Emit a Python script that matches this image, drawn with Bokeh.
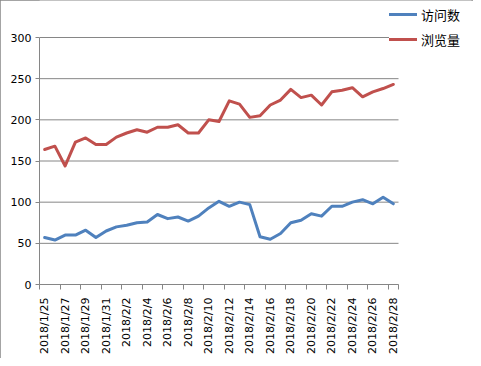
from math import pi
from bokeh.plotting import figure
from bokeh.models import (Range1d, FixedTicker, LinearAxis, Legend, LegendItem)
from bokeh.embed import file_html
from bokeh.resources import INLINE

# ---- data ----
dates = ["2018/1/%d" % d for d in range(25, 32)] + ["2018/2/%d" % d for d in range(1, 29)]
visits = [57, 54, 60, 60, 66, 57, 65, 70, 72, 75, 76, 85, 80, 82, 77, 83, 93, 101,
          95, 100, 97, 58, 55, 62, 75, 78, 86, 83, 95, 95, 100, 103, 98, 106, 98]
views = [164, 168, 144, 173, 178, 170, 170, 179, 184, 188, 185, 191, 191, 194, 184, 184, 200, 198,
         223, 219, 203, 205, 218, 224, 237, 227, 230, 218, 234, 236, 239, 228, 234, 238, 243]
series_names = ["访问数", "浏览量"]
y_ticks = [0, 50, 100, 150, 200, 250, 300]

n = len(dates)
xs = list(range(n))
label_pos = xs[::2]
label_text = {i: dates[i] for i in label_pos}
boundary_ticks = [i - 0.5 for i in label_pos] + [n - 0.5]

GRAY = "#868686"
BLUE = "#4F81BD"
RED = "#C0504D"
FONT = "DejaVu Sans"

# layout geometry (pixels)
W, H = 473, 358
BL, BR, BT, BB = 39, 2, 0, 74
px_per_cat = 359.0 / n          # plotted category width
px_per_unit = 247.0 / y_ticks[-1]
x_end = -0.5 + (W - BL - BR) / px_per_cat
y_end = (H - BT - BB) / px_per_unit

p = figure(width=W, height=H, output_backend="svg", toolbar_location=None,
           x_range=Range1d(-0.5, x_end), y_range=Range1d(0, y_end),
           x_axis_type=None, y_axis_type=None,
           min_border_left=BL, min_border_right=BR, min_border_top=BT, min_border_bottom=BB)
p.outline_line_color = None
p.background_fill_color = "white"
p.border_fill_color = "white"
p.styles = {"outline": "1px solid #868686", "outline-offset": "-1px"}

# gridlines limited to the plot area
p.segment(x0=[-0.5] * len(y_ticks), x1=[n - 0.5] * len(y_ticks), y0=y_ticks, y1=y_ticks,
          line_color=GRAY, line_width=1)

# y axis
yaxis = LinearAxis(ticker=FixedTicker(ticks=y_ticks, minor_ticks=[]), bounds=(0, y_ticks[-1]))
yaxis.axis_line_color = GRAY
yaxis.major_tick_line_color = GRAY
yaxis.major_tick_out = 4
yaxis.major_tick_in = 0
yaxis.minor_tick_line_color = None
yaxis.major_label_standoff = 4
yaxis.major_label_text_font = FONT
yaxis.major_label_text_font_size = "11px"
yaxis.major_label_text_color = "#000000"
p.add_layout(yaxis, "left")

# x axis
xaxis = LinearAxis(ticker=FixedTicker(ticks=label_pos, minor_ticks=boundary_ticks),
                   bounds=(-0.5, n - 0.5))
xaxis.major_label_overrides = label_text
xaxis.axis_line_color = GRAY
xaxis.major_tick_line_color = None
xaxis.major_tick_out = 0
xaxis.major_tick_in = 0
xaxis.minor_tick_line_color = GRAY
xaxis.minor_tick_out = 5
xaxis.minor_tick_in = 0
xaxis.major_label_orientation = pi / 2
xaxis.major_label_standoff = 8
xaxis.major_label_text_font = FONT
xaxis.major_label_text_font_size = "11px"
xaxis.major_label_text_color = "#000000"
p.add_layout(xaxis, "below")

p.xgrid.grid_line_color = None
p.ygrid.grid_line_color = None

r1 = p.line(xs, visits, line_color=BLUE, line_width=3, line_join="round", line_cap="round")
r2 = p.line(xs, views, line_color=RED, line_width=3, line_join="round", line_cap="round")

legend = Legend(items=[LegendItem(label=series_names[0], renderers=[r1]),
                       LegendItem(label=series_names[1], renderers=[r2])],
                location=(350, 235), orientation="vertical")
legend.border_line_color = None
legend.background_fill_color = "white"
legend.background_fill_alpha = 1.0
legend.padding = 3
legend.margin = 0
legend.spacing = 5
legend.glyph_width = 28
legend.glyph_height = 20
legend.label_height = 20
legend.label_standoff = 4
legend.label_text_font = "Noto Sans CJK SC"
legend.label_text_font_size = "13px"
legend.label_text_color = "#000000"
p.add_layout(legend, "center")

open("out.html", "w").write(file_html(p, INLINE))
